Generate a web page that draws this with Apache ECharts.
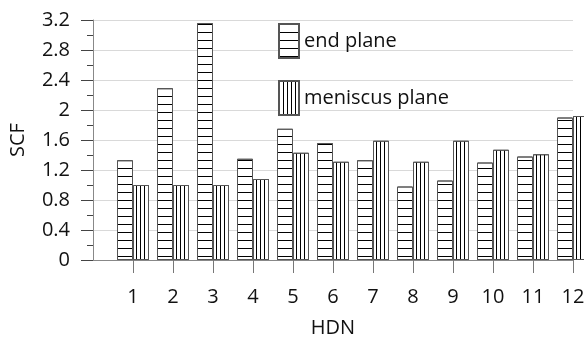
<!DOCTYPE html>
<html>
<head>
<meta charset="utf-8">
<script src="https://cdn.jsdelivr.net/npm/echarts@6/dist/echarts.min.js"></script>
<style>
html,body{margin:0;padding:0;background:#fff;}
#c{width:584px;height:337px;}
</style>
</head>
<body>
<div id="c"></div>
<script>
const categories = ['', '1', '2', '3', '4', '5', '6', '7', '8', '9', '10', '11', '12'];
const endPlane = [null, 1.33, 2.29, 3.16, 1.35, 1.75, 1.56, 1.33, 0.98, 1.06, 1.30, 1.38, 1.90];
const meniscusPlane = [null, 1.00, 1.00, 1.00, 1.08, 1.43, 1.31, 1.59, 1.31, 1.59, 1.47, 1.41, 1.92];
const seriesNames = ['end plane', 'meniscus plane'];
const yTicks = { min: 0, max: 3.2, interval: 0.4 };

const FONT = 'Open Sans';
const FS = 20;
const chart = echarts.init(document.getElementById('c'), null, { renderer: 'canvas' });

const hDecal = {
  symbol: 'rect', symbolSize: 1, symbolKeepAspect: false,
  color: '#000', dashArrayX: [[8, 0]], dashArrayY: [1, 7], rotation: 0
};
const vDecal = {
  symbol: 'rect', symbolSize: 1, symbolKeepAspect: false,
  color: '#000', dashArrayX: [[1, 3]], dashArrayY: [8, 0], rotation: 0
};

chart.setOption({
  animation: false,
  backgroundColor: '#fff',
  grid: { left: 93, top: 20, right: 11, bottom: 77, containLabel: false, outerBoundsMode: 'none' },
  legend: {
    orient: 'vertical', left: 278, top: 23, padding: 0,
    itemWidth: 20, itemHeight: 34, itemGap: 21,
    icon: 'rect',
    textStyle: { fontFamily: FONT, fontSize: FS, color: '#111', padding: [0, 0, 0, 0] },
    data: seriesNames
  },
  xAxis: {
    type: 'category', data: categories, boundaryGap: false,
    axisLine: { lineStyle: { color: '#888', width: 1 } },
    axisTick: { show: true, length: 13, interval: (i) => i > 0, lineStyle: { color: '#777' } },
    axisLabel: { fontFamily: FONT, fontSize: FS, color: '#111', margin: 27, interval: 0 },
    splitLine: { show: false },
    name: 'HDN', nameLocation: 'middle', nameGap: 58,
    nameTextStyle: { fontFamily: FONT, fontSize: FS, color: '#111' }
  },
  yAxis: {
    type: 'value', min: yTicks.min, max: yTicks.max, interval: yTicks.interval,
    axisLine: { show: true, lineStyle: { color: '#888', width: 1 } },
    axisTick: { show: true, length: 12, lineStyle: { color: '#444' } },
    minorTick: { show: true, splitNumber: 2, length: 6, lineStyle: { color: '#444' } },
    axisLabel: { fontFamily: FONT, fontSize: FS, color: '#111', margin: 23 },
    splitLine: { show: true, lineStyle: { color: '#d9d9d9', width: 1 } },
    name: 'SCF', nameLocation: 'middle', nameGap: 65, nameRotate: 90,
    nameTextStyle: { fontFamily: FONT, fontSize: FS, color: '#111' }
  },
  series: [
    {
      name: seriesNames[0], type: 'bar', data: endPlane,
      barWidth: 16, barGap: '0%', clip: false,
      itemStyle: { color: '#fff', borderColor: '#555', borderWidth: 1, decal: hDecal }
    },
    {
      name: seriesNames[1], type: 'bar', data: meniscusPlane,
      barWidth: 16, barGap: '0%', clip: false,
      itemStyle: { color: '#fff', borderColor: '#555', borderWidth: 1, decal: vDecal }
    }
  ]
});
</script>
</body>
</html>
